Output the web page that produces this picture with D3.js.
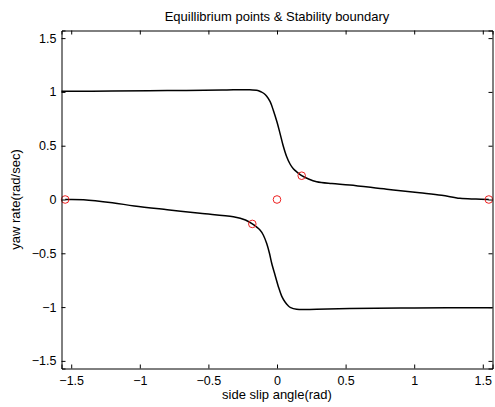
<!DOCTYPE html>
<html>
<head>
<meta charset="utf-8">
<script src="https://cdn.jsdelivr.net/npm/d3@7"></script>
<style>
body { margin: 0; background: #fff; }
text { font-family: "Liberation Sans", Arial, sans-serif; }
</style>
</head>
<body>
<script>
// boundary curves
var upperX = [-1.571, -1.2, -0.8, -0.4, -0.2, -0.14, -0.115, -0.095, -0.075, -0.05, -0.027, 0, 0.022, 0.045, 0.07, 0.095, 0.119, 0.15, 0.18, 0.23, 0.289, 0.4, 0.53, 0.8, 1.04, 1.2, 1.333, 1.45, 1.544]
var upperY = [1.005, 1.008, 1.012, 1.017, 1.02, 1.013, 1.0, 0.985, 0.96, 0.91, 0.83, 0.72, 0.615, 0.5, 0.40, 0.33, 0.285, 0.25, 0.221, 0.19, 0.165, 0.148, 0.135, 0.095, 0.063, 0.04, 0.011, 0.004, 0]
var lowerX = [-1.544, -1.41, -1.2, -1.04, -0.8, -0.561, -0.318, -0.23, -0.18, -0.124, -0.1, -0.075, -0.055, -0.039, -0.015, 0.01, 0.035, 0.06, 0.08, 0.1, 0.143, 0.289, 0.53, 1.0, 1.571]
var lowerY = [0, -0.002, -0.03, -0.06, -0.095, -0.128, -0.16, -0.19, -0.227, -0.283, -0.33, -0.41, -0.5, -0.59, -0.70, -0.81, -0.9, -0.955, -0.985, -1.005, -1.02, -1.02, -1.014, -1.008, -1.005]

// equilibrium points
var eqX = [-1.544, -0.18, 0, 0.18, 1.544]
var eqY = [0, -0.227, 0, 0.221, 0]

var ticks = [-1.5, -1, -0.5, 0, 0.5, 1, 1.5]

var w = 495, h = 407
var pLeft = 61.5, pRight = 492.5, pTop = 30.5, pBottom = 368.5

var svg = d3.select("body").append("svg").attr("width", w).attr("height", h)

var x = d3.scaleLinear().domain([-Math.PI / 2, Math.PI / 2]).range([pLeft, pRight])
var y = d3.scaleLinear().domain([-Math.PI / 2, Math.PI / 2]).range([pBottom, pTop])

var fmt = function(d) { return d < 0 ? "\u2212" + Math.abs(d) : String(d) }

var line = d3.line()
  .x(function(d) { return x(d[0]) })
  .y(function(d) { return y(d[1]) })
  .curve(d3.curveCatmullRom.alpha(0.5))

var curves = [d3.zip(upperX, upperY), d3.zip(lowerX, lowerY)]

svg.append("g").selectAll("path").data(curves).enter()
  .append("path")
  .attr("d", line)
  .attr("fill", "none")
  .attr("stroke", "black")
  .attr("stroke-width", 1.5)

svg.append("g").selectAll("circle").data(d3.zip(eqX, eqY)).enter()
  .append("circle")
  .attr("cx", function(d) { return x(d[0]) })
  .attr("cy", function(d) { return y(d[1]) })
  .attr("r", 3.8)
  .attr("fill", "none")
  .attr("stroke", "#ee2222")
  .attr("stroke-width", 1)

// axes, MATLAB style: ticks inward on all sides
var tl = 4
svg.append("g").attr("transform", `translate(0,${pBottom})`)
  .call(d3.axisBottom(x).tickValues(ticks).tickSize(-tl).tickPadding(8).tickFormat(fmt))
svg.append("g").attr("transform", `translate(0,${pTop})`)
  .call(d3.axisTop(x).tickValues(ticks).tickSize(-tl).tickFormat(""))
svg.append("g").attr("transform", `translate(${pLeft},0)`)
  .call(d3.axisLeft(y).tickValues(ticks).tickSize(-tl).tickPadding(5).tickFormat(fmt))
svg.append("g").attr("transform", `translate(${pRight},0)`)
  .call(d3.axisRight(y).tickValues(ticks).tickSize(-tl).tickFormat(""))

svg.selectAll(".domain").attr("stroke", "black").attr("stroke-width", 1)
svg.selectAll(".tick line").attr("stroke", "black")
svg.selectAll(".tick text").attr("font-size", 12.5).attr("fill", "black")
  .style("font-family", "'Liberation Sans', Arial, sans-serif")

svg.append("text").attr("x", (pLeft + pRight) / 2).attr("y", 21)
  .attr("text-anchor", "middle").attr("font-size", 13).text("Equillibrium points & Stability boundary")

svg.append("text").attr("x", (pLeft + pRight) / 2).attr("y", 399)
  .attr("text-anchor", "middle").attr("font-size", 13).text("side slip angle(rad)")

svg.append("text").attr("transform", `translate(20,${(pTop + pBottom) / 2}) rotate(-90)`)
  .attr("text-anchor", "middle").attr("font-size", 13).text("yaw rate(rad/sec)")
</script>
</body>
</html>
